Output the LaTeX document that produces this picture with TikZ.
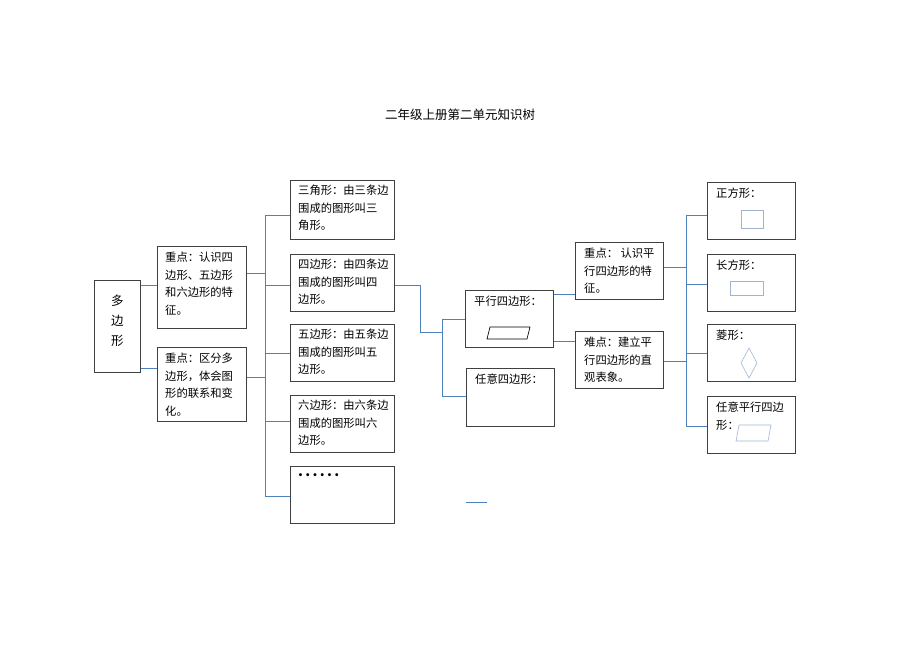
\documentclass[tikz,border=0pt]{standalone}
\usepackage{fontspec}
\setmainfont{Noto Sans CJK SC}
\definecolor{linkblue}{RGB}{79,129,189}
\definecolor{picblue}{RGB}{160,180,210}
\begin{document}
\begin{tikzpicture}
  [x=1pt, y=-1pt,
   box/.style={draw=black!75, line width=0.8pt, rectangle, anchor=north west, inner sep=0pt},
   txt/.style={anchor=north west, align=left, inner sep=0pt, font=\fontsize{11.3}{17.5}\selectfont},
   link/.style={draw=linkblue, line width=0.8pt},
   pic/.style={draw=picblue, line width=0.6pt}]

  \useasboundingbox (0,0) rectangle (920,651);
  \node[font=\fontsize{12.5}{14}\selectfont] (title) at (460,115) {二年级上册第二单元知识树};

  % boxes
  \node[box, minimum width=46, minimum height=92] (poly) at (94,280) {};
  \node[box, minimum width=89, minimum height=82] (key1) at (157,246) {};
  \node[box, minimum width=89, minimum height=74] (key2) at (157,347) {};
  \node[box, minimum width=104, minimum height=59] (tri) at (290,180) {};
  \node[box, minimum width=104, minimum height=57] (quad) at (290,254) {};
  \node[box, minimum width=104, minimum height=57] (pent) at (290,324) {};
  \node[box, minimum width=104, minimum height=57] (hexa) at (290,395) {};
  \node[box, minimum width=104, minimum height=57] (more) at (290,466) {};
  \node[box, minimum width=88, minimum height=57] (para) at (465,290) {};
  \node[box, minimum width=88, minimum height=58] (anyq) at (466,368) {};
  \node[box, minimum width=88, minimum height=57] (key3) at (575,242) {};
  \node[box, minimum width=88, minimum height=57] (hard) at (575,331) {};
  \node[box, minimum width=88, minimum height=57] (sq) at (707,182) {};
  \node[box, minimum width=88, minimum height=57] (rect) at (707,254) {};
  \node[box, minimum width=88, minimum height=57] (rhom) at (707,324) {};
  \node[box, minimum width=88, minimum height=57] (anyp) at (707,396) {};

  % texts
  \node[txt, align=center, font=\fontsize{12.5}{20}\selectfont] (t0) at (111,295) {多\\边\\形};
  \node[txt] (t1) at (165,252) {重点：认识四\\边形、五边形\\和六边形的特\\征。};
  \node[txt] (t2) at (165,353) {重点：区分多\\边形，体会图\\形的联系和变\\化。};
  \node[txt] (t3) at (298,185) {三角形：由三条边\\围成的图形叫三\\角形。};
  \node[txt] (t4) at (298,259) {四边形：由四条边\\围成的图形叫四\\边形。};
  \node[txt] (t5) at (298,329) {五边形：由五条边\\围成的图形叫五\\边形。};
  \node[txt] (t6) at (298,400) {六边形：由六条边\\围成的图形叫六\\边形。};
  \node[txt, font=\fontsize{14}{14}\selectfont\bfseries] (t7) at (298,473) {.\,.\,.\,.\,.\,.};
  \node[txt] (t8) at (474,296) {平行四边形：};
  \node[txt] (t9) at (475,374) {任意四边形：};
  \node[txt] (t10) at (584,248) {重点：\ 认识平\\行四边形的特\\征。};
  \node[txt] (t11) at (584,337) {难点：建立平\\行四边形的直\\观表象。};
  \node[txt] (t12) at (716,188) {正方形：};
  \node[txt] (t13) at (716,260) {长方形：};
  \node[txt] (t14) at (716,330) {菱形：};
  \node[txt] (t15) at (716,402) {任意平行四边\\形：};

  % small figures
  \draw[line width=0.7pt] (490,327) -- (530,327) -- (527,339) -- (487,339) -- cycle;
  \draw[pic] (741,210) rectangle (763,228);
  \draw[pic] (730,281) rectangle (763,295);
  \draw[pic] (749,348) -- (757,363) -- (749,378) -- (741,363) -- cycle;
  \draw[pic] (739,425) -- (771,425) -- (768,441) -- (736,441) -- cycle;

  % connectors
  \coordinate (b1) at (265,215);
  \coordinate (b2) at (265,496);
  \draw[link] (b1) -- (b2);
  \draw[link] (poly.east |- 0,285) -- (key1.west |- 0,285);
  \draw[link] (poly.east |- 0,368) -- (key2.west |- 0,368);
  \draw[link] (key1.east |- 0,273) -- (265,273);
  \draw[link] (key2.east |- 0,377) -- (265,377);
  \foreach \n/\y in {tri/215, quad/285, pent/353, hexa/421, more/496}
    \draw[link] (265,\y) -- (\n.west |- 0,\y);

  \draw[link] (quad.east |- 0,285) -- (420,285) -- (420,332) -- (442,332);
  \draw[link] (442,319) -- (442,396);
  \draw[link] (442,319) -- (para.west |- 0,319);
  \draw[link] (442,396) -- (anyq.west |- 0,396);
  \draw[link] (para.east |- 0,294) -- (key3.west |- 0,294);
  \draw[link] (para.east |- 0,341) -- (hard.west |- 0,341);

  \draw[link] (686,215) -- (686,426);
  \draw[link] (key3.east |- 0,267) -- (686,267);
  \draw[link] (hard.east |- 0,361) -- (686,361);
  \foreach \n/\y in {sq/215, rect/284, rhom/353, anyp/426}
    \draw[link] (686,\y) -- (\n.west |- 0,\y);

  \coordinate (s1) at (466,502);
  \coordinate (s2) at (487,502);
  \draw[link] (s1) -- (s2);
\end{tikzpicture}
\end{document}
